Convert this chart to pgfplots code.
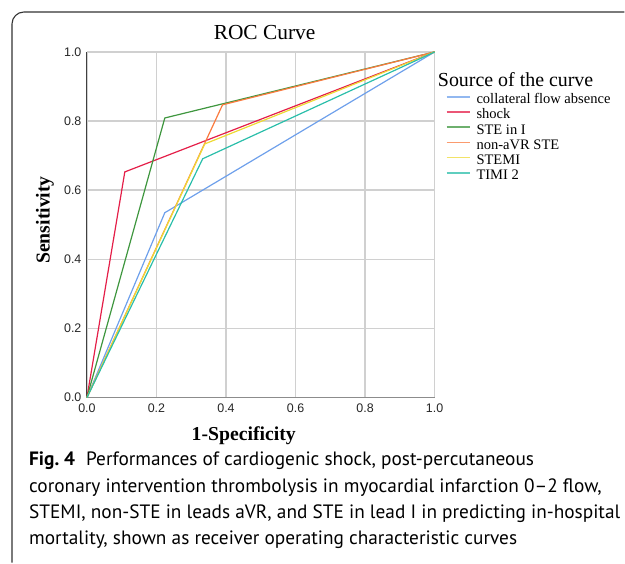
\documentclass[border=0pt]{standalone}
\usepackage{fontspec}
\setmainfont{Liberation Serif}
\newfontfamily\arialf{Liberation Sans}
\newfontfamily\capfont[Ligatures=TeX]{PT Sans}
\usepackage{pgfplots}
\pgfplotsset{compat=1.18}

\definecolor{cblue}{RGB}{110,160,235}
\definecolor{cred}{RGB}{228,30,72}
\definecolor{cgreen}{RGB}{62,150,62}
\definecolor{corange}{RGB}{250,122,62}
\definecolor{cyellow}{RGB}{238,218,52}
\definecolor{cteal}{RGB}{42,190,170}
\definecolor{gridc}{RGB}{208,208,208}

\begin{document}
\begin{tikzpicture}
% page frame
\path (0,0) rectangle (625bp,-563bp);
\draw[line width=1.1bp, black!80] (12bp,-563bp) -- (12bp,-24bp) arc[start angle=180, end angle=90, radius=12bp] -- (625bp,-12bp);

\begin{axis}[
  at={(87bp,-398bp)}, anchor=south west,
  scale only axis, width=348bp, height=346bp,
  xmin=0, xmax=1, ymin=0, ymax=1,
  xtick={0,0.2,...,1.0}, ytick={0,0.2,...,1.0},
  grid=major, grid style={gridc, line width=1.6bp},
  axis lines=left,
  x axis line style={-, draw=black!45, line width=1.1bp},
  y axis line style={-, draw=black!75, line width=1.1bp},
  major tick length=0pt,
  /pgf/number format/.cd, fixed, fixed zerofill, precision=1, assume math mode=true,
  /pgfplots/.cd,
  ticklabel style={font=\arialf\fontsize{12.5}{14}\selectfont, black!85},
  xticklabel style={yshift=-3bp},
  yticklabel style={xshift=-2bp},
  title={ROC Curve},
  title style={at={(axis description cs:0.511,1.038)}, anchor=center, font=\fontsize{21.5}{24}\selectfont},
  xlabel={\textbf{1-Specificity}},
  xlabel style={at={(axis description cs:0.451,-0.111)}, anchor=center, font=\fontsize{19.8}{22}\selectfont},
  ylabel={\textbf{Sensitivity}},
  ylabel style={at={(axis description cs:-0.121,0.514)}, anchor=center, rotate=0, font=\fontsize{19.8}{22}\selectfont},
  legend cell align=left,
  legend style={at={(axis description cs:1.032,0.881)}, anchor=north west, draw=none, fill=none,
    inner sep=0pt, row sep=0pt, font=\fontsize{14.6}{15}\selectfont,
    nodes={inner sep=0pt, text height=10.5bp, text depth=4.7bp},
    /tikz/every odd column/.append style={column sep=6bp}},
  legend image code/.code={\draw[#1, line width=1.6bp, opacity=0.75] (0bp,4bp) -- (23bp,4bp);},
  every axis plot/.append style={line width=1.2bp},
  clip=false,
]
\addplot[cblue] coordinates {(0,0) (0.224,0.535) (1,1)};
\addlegendentry{collateral flow absence}
\addplot[cred] coordinates {(0,0) (0.109,0.653) (1,1)};
\addlegendentry{shock}
\addplot[cgreen] coordinates {(0,0) (0.224,0.809) (1,1)};
\addlegendentry{STE in I}
\addplot[corange] coordinates {(0,0) (0.390,0.847) (1,1)};
\addlegendentry{non-aVR STE}
\addplot[cyellow] coordinates {(0,0) (0.339,0.734) (1,1)};
\addlegendentry{STEMI}
\addplot[cteal] coordinates {(0,0) (0.333,0.691) (1,1)};
\addlegendentry{TIMI 2}
\node[anchor=west, inner sep=0pt, font=\fontsize{20}{22}\selectfont] at (axis description cs:1.009,0.921) {Source of the curve};
\end{axis}

% caption
\node[anchor=north west, inner sep=0pt, align=left, font=\capfont\fontsize{19.4}{26.6}\selectfont]
  at (29bp,-452bp) {\textbf{Fig.\ 4}\hspace{11bp}Performances of cardiogenic shock, post-percutaneous\\
coronary intervention thrombolysis in myocardial infarction 0–2 flow,\\
STEMI, non-STE in leads aVR, and STE in lead I in predicting in-hospital\\
mortality, shown as receiver operating characteristic curves};
\end{tikzpicture}
\end{document}
